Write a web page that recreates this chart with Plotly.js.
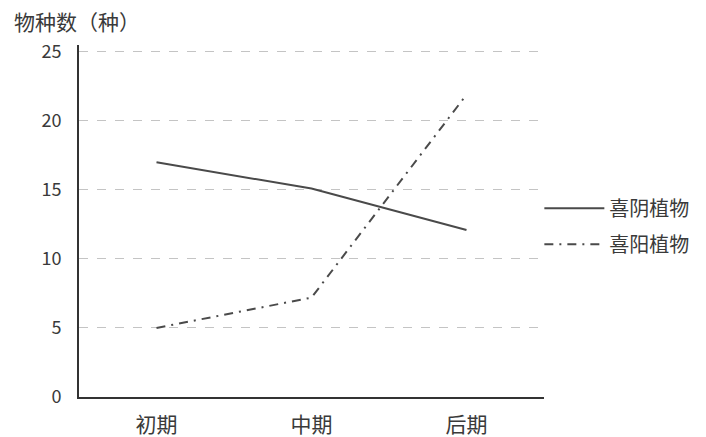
<!DOCTYPE html>
<html>
<head>
<meta charset="utf-8">
<script src="https://cdn.plot.ly/plotly-3.0.1.min.js"></script>
<style>html,body{margin:0;padding:0;background:#fff;}#chart{width:706px;height:437px;}</style>
</head>
<body>
<div id="chart"></div>
<script>
const categories = ["初期", "中期", "后期"];
const shadeValues = [17, 15.1, 12.1];
const sunValues = [5, 7.2, 21.9];
const seriesNames = ["喜阴植物", "喜阳植物"];
const yTicks = [0, 5, 10, 15, 20, 25];
const yTitle = "物种数（种）";

const font = "Noto Sans CJK SC, Noto Sans, sans-serif";
const ink = "#3a3a3a";

const traces = [
  {x: categories, y: shadeValues, name: seriesNames[0], type: "scatter", mode: "lines",
   legendgroup: "a", line: {color: "#4a4a4a", width: 2}},
  {x: categories, y: sunValues, name: seriesNames[1], type: "scatter", mode: "lines",
   legendgroup: "b", line: {color: "#4a4a4a", width: 2, dash: "9px,6px,2px,6px"}}
];

const layout = {
  width: 706, height: 437,
  paper_bgcolor: "#ffffff", plot_bgcolor: "#ffffff",
  margin: {l: 79, r: 162, t: 45, b: 40},
  font: {family: font, color: ink},
  title: {text: yTitle, font: {size: 21, color: ink, family: font},
          xref: "container", yref: "container", x: 0.02, xanchor: "left", y: 0.948, yanchor: "middle"},
  showlegend: true,
  legend: {x: 0.99, xanchor: "left", y: 0.485, yanchor: "middle", font: {size: 20, color: ink},
           itemwidth: 60, traceorder: "grouped", tracegroupgap: 7, bgcolor: "rgba(0,0,0,0)"},
  xaxis: {type: "category", range: [-0.5, 2.5], showline: true, linecolor: "#333", linewidth: 2,
          showgrid: false, zeroline: false, ticks: "", tickfont: {size: 21, color: ink},
          ticklabelstandoff: 8},
  yaxis: {range: [0, 25.5], tickvals: yTicks, showline: true, linecolor: "#333", linewidth: 2,
          showgrid: true, gridcolor: "#c4c4c4", griddash: "dash", gridwidth: 1, zeroline: false,
          ticks: "", tickfont: {size: 18, color: ink}, ticklabelstandoff: 12}
};

Plotly.newPlot("chart", traces, layout, {staticPlot: true, displayModeBar: false});
</script>
</body>
</html>
